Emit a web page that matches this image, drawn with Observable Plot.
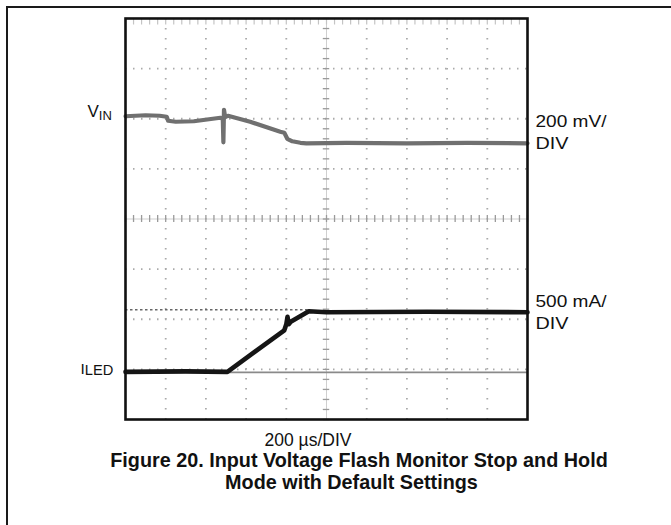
<!DOCTYPE html>
<html>
<head>
<meta charset="utf-8">
<script src="https://cdn.jsdelivr.net/npm/d3@7"></script>
<script src="https://cdn.jsdelivr.net/npm/@observablehq/plot@0.6"></script>
<style>
  body { margin: 0; background: #fff; font-family: "Liberation Sans", Arial, sans-serif; }
  #wrap { position: relative; width: 671px; height: 525px; overflow: hidden; background: #fff; }
  #frame { position: absolute; left: 6px; top: 6px; width: 700px; height: 600px;
           border-left: 2px solid #1a1a1a; border-top: 2px solid #1a1a1a; }
  #chart { position: absolute; left: 0; top: 0; }
  #labels { position: absolute; left: 0; top: 0; pointer-events: none; }
  .cap { position: absolute; width: 600px; text-align: center; color: #111; white-space: nowrap; }
  #xlab { left: 208px; width: 200px; top: 430px; font-size: 17.5px; line-height: 20px; }
  #c1 { left: 59px; top: 449px; font-size: 19.8px; line-height: 22px; font-weight: bold; }
  #c2 { left: 51.5px; top: 470.6px; font-size: 19.8px; line-height: 22px; font-weight: bold; }
</style>
</head>
<body>
<div id="wrap">
  <div id="frame"></div>
  <div id="chart"></div>
  <svg id="labels" width="671" height="525" font-family="Liberation Sans, Arial, sans-serif" fill="#111">
    <text x="87.5" y="117" font-size="17">V<tspan font-size="13" dy="3">IN</tspan></text>
    <text x="80.5" y="373.5" font-size="15.5">I<tspan font-size="14.5" dy="1.5" textLength="28.5" lengthAdjust="spacingAndGlyphs">LED</tspan></text>
    <text x="535.5" y="127" font-size="16.5" textLength="71" lengthAdjust="spacingAndGlyphs">200 mV/</text>
    <text x="535.5" y="149" font-size="16.5" textLength="33" lengthAdjust="spacingAndGlyphs">DIV</text>
    <text x="535.5" y="307" font-size="16.5" textLength="71" lengthAdjust="spacingAndGlyphs">500 mA/</text>
    <text x="535.5" y="329" font-size="16.5" textLength="33" lengthAdjust="spacingAndGlyphs">DIV</text>
  </svg>
  <div id="xlab" class="cap">200 µs/DIV</div>
  <div id="c1" class="cap">Figure 20. Input Voltage Flash Monitor Stop and Hold</div>
  <div id="c2" class="cap">Mode with Default Settings</div>
</div>
<script>
// Time in µs (200 µs/DIV, 10 divisions); vertical position in screen divisions (center = 0)
const vinTime = [0, 100, 170, 205, 212, 250, 340, 472, 484, 487, 490, 496, 510, 620, 770, 790, 805, 830, 870, 900, 1100, 1400, 1700, 2000];
const vinDiv  = [2.05, 2.07, 2.06, 2.04, 1.96, 1.94, 1.95, 2.02, 2.00, 1.53, 2.18, 2.03, 2.06, 1.94, 1.74, 1.72, 1.60, 1.55, 1.52, 1.51, 1.52, 1.51, 1.52, 1.51];

const iledTime = [0, 300, 507, 790, 800, 806, 812, 822, 912, 1000, 1500, 2000];
const iledDiv  = [-3.05, -3.04, -3.05, -2.22, -2.10, -1.95, -2.10, -2.05, -1.84, -1.86, -1.85, -1.86];

const iledGround = -3.06;     // ILED zero reference level (div)
const iledCursor = -1.81;     // dotted cursor level (div)
const cursorEnd = 912;        // µs

const xDomain = [0, 2000];
const yDomain = [-4, 4];
const timePerDiv = 200;

const vin = vinTime.map((t, i) => ({t, v: vinDiv[i]}));
const iled = iledTime.map((t, i) => ({t, v: iledDiv[i]}));

const majorX = d3.range(timePerDiv, 2000, timePerDiv).filter(t => t !== 1000);
const majorY = d3.range(-3, 4, 1).filter(v => v !== 0);
const minorX = d3.range(0, 2000.1, timePerDiv / 5);
const minorY = d3.range(-4, 4.01, 0.2);

const plot = Plot.plot({
  width: 671,
  height: 424,
  marginLeft: 125,
  marginRight: 144,
  marginTop: 18,
  marginBottom: 5,
  x: {domain: xDomain, axis: null},
  y: {domain: yDomain, axis: null},
  style: {background: "transparent"},
  marks: [
    // dotted graticule
    Plot.ruleX(majorX, {stroke: "#aaaaaa", strokeWidth: 1.8, strokeDasharray: "1.5,8.5"}),
    Plot.ruleY(majorY, {stroke: "#aaaaaa", strokeWidth: 1.8, strokeDasharray: "1.5,6.5"}),
    // center axes with minor ticks
    Plot.ruleX([1000], {stroke: "#cfcfcf", strokeWidth: 1}),
    Plot.ruleY([0], {stroke: "#cfcfcf", strokeWidth: 1}),
    Plot.ruleY(minorY, {y: d => d, x1: 1000 - 16, x2: 1000 + 16, stroke: "#9a9a9a", strokeWidth: 1.3}),
    Plot.ruleX(minorX, {x: d => d, y1: -0.07, y2: 0.07, stroke: "#9a9a9a", strokeWidth: 1.3}),
    Plot.ruleX(minorX, {x: d => d, y1: 3.87, y2: 4, stroke: "#c4c4c4", strokeWidth: 1.2}),
    // ILED ground reference and cursor
    Plot.ruleY([iledGround], {stroke: "#8a8a8a", strokeWidth: 1.6}),
    Plot.ruleY([iledCursor], {x1: 0, x2: cursorEnd, stroke: "#666", strokeWidth: 1.5, strokeDasharray: "2.5,2.5"}),
    // traces
    Plot.line(vin, {x: "t", y: "v", stroke: "#707070", strokeWidth: 4.2, strokeLinejoin: "round"}),
    Plot.line(iled, {x: "t", y: "v", stroke: "#151515", strokeWidth: 4.6, strokeLinejoin: "round"}),
    Plot.frame({stroke: "#111", strokeWidth: 2.6})
  ]
});
document.getElementById("chart").appendChild(plot);
</script>
</body>
</html>
